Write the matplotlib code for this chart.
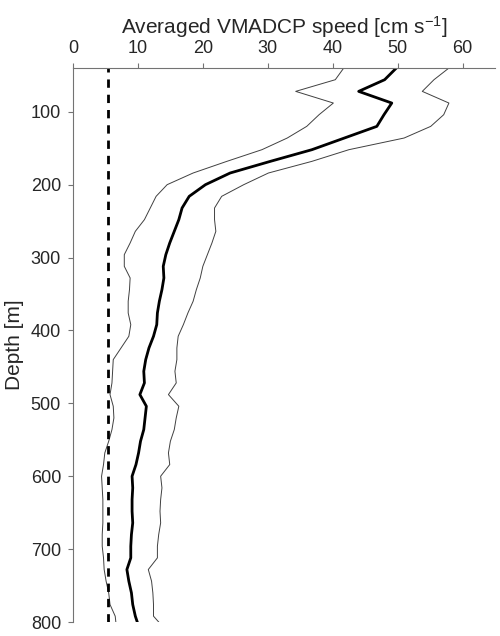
import matplotlib.pyplot as plt
import numpy as np

plt.rcParams['font.family'] = ['Liberation Sans', 'DejaVu Sans']
plt.rcParams['mathtext.default'] = 'regular'

# depth bins [m]
depth = [40, 56, 72, 88, 104, 120, 136, 152, 168, 184, 200, 216, 232, 248,
         264, 280, 296, 312, 328, 344, 360, 376, 392, 408, 424, 440, 456,
         472, 488, 504, 520, 536, 552, 568, 584, 600, 616, 632, 648, 664,
         680, 696, 712, 728, 744, 760, 776, 792, 800]

# averaged speed [cm/s]
speed_mean = [49.8, 48.0, 44.0, 49.1, 47.9, 46.8, 41.8, 36.8, 30.4, 24.2,
              20.4, 17.9, 16.8, 16.3, 15.6, 14.9, 14.3, 13.9, 14.0, 13.7,
              13.3, 13.0, 12.9, 12.4, 11.7, 11.2, 10.9, 11.0, 10.3, 11.3,
              11.1, 10.9, 10.4, 10.1, 9.7, 9.1, 9.2, 9.1, 9.1, 9.2,
              9.0, 8.9, 8.9, 8.3, 8.6, 9.0, 9.2, 9.6, 9.9]

speed_low = [41.7, 40.4, 34.3, 40.1, 37.9, 36.0, 33.0, 29.1, 23.7, 18.5,
             14.5, 12.8, 11.9, 11.0, 9.6, 8.8, 7.9, 7.9, 8.8, 8.7,
             8.5, 8.5, 8.9, 8.6, 7.4, 6.2, 6.1, 6.0, 5.7, 6.2,
             6.3, 6.0, 5.5, 4.9, 4.7, 4.4, 4.5, 4.6, 4.6, 4.6,
             4.5, 4.5, 4.7, 4.8, 5.1, 5.5, 5.7, 6.5, 6.6]

speed_high = [57.9, 55.6, 53.8, 57.9, 57.1, 55.1, 51.0, 42.5, 36.8, 30.1,
              26.3, 22.9, 21.8, 21.8, 22.0, 21.4, 20.7, 20.0, 19.6, 19.0,
              18.5, 17.7, 17.0, 16.2, 16.0, 16.0, 15.7, 15.9, 14.7, 16.3,
              15.9, 15.6, 15.0, 14.7, 14.9, 13.5, 13.7, 13.5, 13.4, 13.5,
              13.2, 13.0, 13.0, 11.6, 12.1, 12.3, 12.4, 12.4, 13.2]

noise_level = 5.4

fig = plt.figure(figsize=(5, 6.36), dpi=100)
ax = fig.add_axes([0.146, 0.022, 0.844, 0.871])

ax.plot(speed_low, depth, color="0.25", lw=0.7)
ax.plot(speed_high, depth, color="0.25", lw=0.7)
ax.plot(speed_mean, depth, color="k", lw=2.0)
ax.axvline(noise_level, color="k", lw=2.0, ls=(0, (3, 2.5)))

ax.set_xlim(0, 65)
ax.set_ylim(800, 40)
ax.set_xticks(np.arange(0, 61, 10))
ax.set_yticks(np.arange(100, 801, 100))

ax.xaxis.tick_top()
ax.xaxis.set_label_position("top")
ax.spines[['right', 'bottom']].set_visible(False)
for s in ['left', 'top']:
    ax.spines[s].set_color("0.45")
    ax.spines[s].set_linewidth(0.8)
ax.tick_params(colors="0.45", labelcolor="#262626", labelsize=13,
               length=3.6, width=0.8, direction="out")
ax.tick_params(axis="x", pad=4.7)
ax.tick_params(axis="y", pad=5)

ax.set_xlabel("Averaged VMADCP speed [cm s$^{-1}$]", fontsize=15,
              color="#262626", labelpad=4)
ax.set_ylabel("Depth [m]", fontsize=15, color="#262626", labelpad=5)

fig.savefig("out.png")
